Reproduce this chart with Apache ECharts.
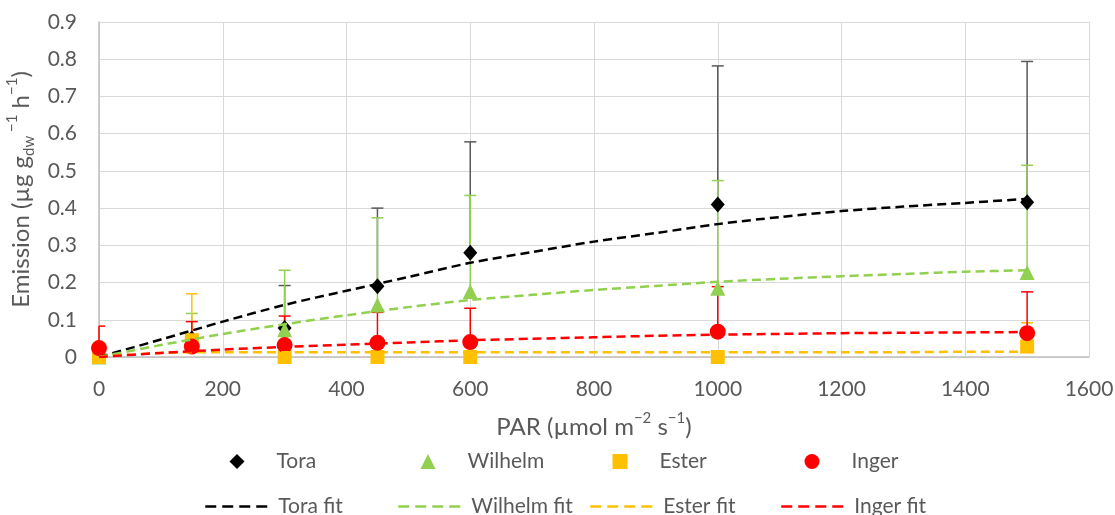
<!DOCTYPE html>
<html>
<head>
<meta charset="utf-8">
<script src="https://cdn.jsdelivr.net/npm/echarts@6/dist/echarts.min.js"></script>
<style>
  html, body { margin: 0; padding: 0; background: #fff; }
  #chart { width: 1115px; height: 515px; }
</style>
</head>
<body>
<div id="chart"></div>
<script>
// PAR levels of the measurements
const parX = [0, 150, 300, 450, 600, 1000, 1500]

// measured emissions (mean) and upper error
const tora = [0.02, 0.05, 0.078, 0.19, 0.28, 0.41, 0.416]
const toraErr = [0, 0, 0.114, 0.21, 0.298, 0.372, 0.378]
const wilhelm = [0.0, 0.03, 0.073, 0.14, 0.176, 0.185, 0.227]
const wilhelmErr = [0, 0.087, 0.16, 0.234, 0.258, 0.289, 0.288]
const ester = [0, 0.045, 0, 0, 0, 0, 0.028]
const esterErr = [0, 0.125, 0, 0, 0, 0, 0.064]
const inger = [0.024, 0.028, 0.032, 0.038, 0.04, 0.068, 0.064]
const ingerErr = [0.059, 0.067, 0.078, 0.082, 0.091, 0.121, 0.111]

// fitted curves
const fitX = [0, 100, 200, 300, 400, 500, 600, 700, 800, 900, 1000, 1100, 1200, 1300, 1400, 1500]
const toraFit = [0, 0.047, 0.095, 0.14, 0.178, 0.215, 0.253, 0.282, 0.31, 0.333, 0.357, 0.376, 0.392, 0.404, 0.414, 0.425]
const wilhelmFit = [0, 0.032, 0.062, 0.088, 0.112, 0.134, 0.153, 0.167, 0.18, 0.191, 0.202, 0.21, 0.217, 0.223, 0.229, 0.233]
const esterFit = [0, 0.011, 0.013, 0.013, 0.013, 0.013, 0.013, 0.013, 0.013, 0.013, 0.013, 0.013, 0.013, 0.013, 0.014, 0.014]
const ingerFit = [0, 0.011, 0.02, 0.027, 0.033, 0.039, 0.045, 0.049, 0.053, 0.057, 0.06, 0.062, 0.064, 0.065, 0.066, 0.067]

const xTicks = [0, 1600, 200]
const yTicks = [0, 0.9, 0.1]

const FONT = 'Lato'
const GREY = '#595959'

function pairs(xs, ys) {
    return xs.map((x, i) => [x, ys[i]])
}

// vertical plus-only error bars with a cap
function errorBars(name, ys, errs, color) {
    return {
        type: 'custom',
        name: name + ' err',
        z: 2,
        silent: true,
        data: parX.map((x, i) => [x, ys[i], ys[i] + errs[i]]).filter((d, i) => errs[i] > 0),
        encode: { x: 0, y: [1, 2] },
        renderItem: function (params, api) {
            const p0 = api.coord([api.value(0), api.value(1)])
            const p1 = api.coord([api.value(0), api.value(2)])
            const capL = Math.max(p1[0] - 6, params.coordSys.x)
            const st = { stroke: color, lineWidth: 1.5 }
            return {
                type: 'group',
                children: [
                    { type: 'line', shape: { x1: p0[0], y1: p0[1], x2: p1[0], y2: p1[1] }, style: st },
                    { type: 'line', shape: { x1: capL, y1: p1[1], x2: p1[0] + 6, y2: p1[1] }, style: st }
                ]
            }
        }
    }
}

function points(name, ys, color, symbol, size) {
    return {
        type: 'scatter', name: name, z: 3,
        data: pairs(parX, ys),
        symbol: symbol, symbolSize: size,
        itemStyle: { color: color, opacity: 1 },
        emphasis: { disabled: true }
    }
}

function fitLine(name, ys, color) {
    return {
        type: 'line', name: name, z: 4,
        data: pairs(fitX, ys),
        smooth: 0.3,
        symbol: 'none',
        lineStyle: { color: color, width: 2.5, type: [9, 5] },
        itemStyle: { color: color },
        emphasis: { disabled: true }
    }
}

const supSub = {
    sup: { fontSize: 15, fontFamily: FONT, color: GREY, verticalAlign: 'top', lineHeight: 18 },
    sub: { fontSize: 15, fontFamily: FONT, color: GREY, verticalAlign: 'bottom', lineHeight: 18 }
}

// one legend per entry so each sits in its Excel column
const row1 = [['Tora', 'diamond', 229.5], ['Wilhelm', 'triangle', 420.5], ['Ester', 'rect', 612.5], ['Inger', 'circle', 804.5]]
const row2 = [['Tora fit', 204], ['Wilhelm fit', 397], ['Ester fit', 589], ['Inger fit', 780]]

const legends = row1.map(([name, icon, left]) => ({
    left: left, top: 451, padding: 0,
    itemWidth: 15, itemHeight: 15,
    selectedMode: false,
    data: [{ name: name, icon: icon }],
    textStyle: { fontSize: 21, fontFamily: FONT, color: GREY, padding: [0, 0, 0, 27] }
})).concat(row2.map(([name, left]) => ({
    left: left, top: 496, padding: 0,
    itemWidth: 64, itemHeight: 14,
    selectedMode: false,
    itemStyle: { opacity: 0 },
    lineStyle: { type: [11, 6], width: 2.5 },
    data: [name],
    textStyle: { fontSize: 21, fontFamily: FONT, color: GREY, padding: [0, 0, 0, 4] }
})))

const myChart = echarts.init(document.getElementById('chart'))

const option = {
    animation: false,
    backgroundColor: '#fff',
    grid: { left: 99, right: 26, top: 22, bottom: 158, outerBoundsMode: 'none' },
    xAxis: {
        type: 'value',
        min: xTicks[0], max: xTicks[1], interval: xTicks[2],
        name: 'PAR (µmol m{sup|−2} s{sup|−1})',
        nameLocation: 'middle',
        nameGap: 54,
        nameTextStyle: {
            fontSize: 24, fontFamily: FONT, color: GREY, lineHeight: 32,
            rich: supSub
        },
        axisLine: { show: true, lineStyle: { color: '#bfbfbf', width: 1.5 } },
        axisTick: { show: false },
        axisLabel: { fontSize: 21, fontFamily: FONT, color: GREY, margin: 22, formatter: v => String(v) },
        splitLine: { show: true, lineStyle: { color: '#d9d9d9', width: 1 } }
    },
    yAxis: {
        type: 'value',
        min: yTicks[0], max: yTicks[1], interval: yTicks[2],
        name: 'Emission (µg g{sub|dw}{sup| −1} h{sup|−1})',
        nameLocation: 'middle',
        nameGap: 57,
        nameTextStyle: {
            fontSize: 24, fontFamily: FONT, color: GREY, lineHeight: 32,
            rich: supSub
        },
        axisLine: { show: true, lineStyle: { color: '#bfbfbf', width: 1.5 } },
        axisTick: { show: false },
        axisLabel: { fontSize: 21, fontFamily: FONT, color: GREY, margin: 22 },
        splitLine: { show: true, lineStyle: { color: '#d9d9d9', width: 1 } }
    },
    legend: legends,
    series: [
        errorBars('Tora', tora, toraErr, '#595959'),
        errorBars('Wilhelm', wilhelm, wilhelmErr, '#92D050'),
        errorBars('Ester', ester, esterErr, '#FFC000'),
        errorBars('Inger', inger, ingerErr, '#FF0000'),
        points('Tora', tora, '#000000', 'diamond', [14, 16]),
        points('Wilhelm', wilhelm, '#92D050', 'triangle', 15),
        points('Ester', ester, '#FFC000', 'rect', 14),
        points('Inger', inger, '#FF0000', 'circle', 16),
        fitLine('Tora fit', toraFit, '#000000'),
        fitLine('Wilhelm fit', wilhelmFit, '#92D050'),
        fitLine('Ester fit', esterFit, '#FFC000'),
        fitLine('Inger fit', ingerFit, '#FF0000')
    ]
}

myChart.setOption(option)
</script>
</body>
</html>
